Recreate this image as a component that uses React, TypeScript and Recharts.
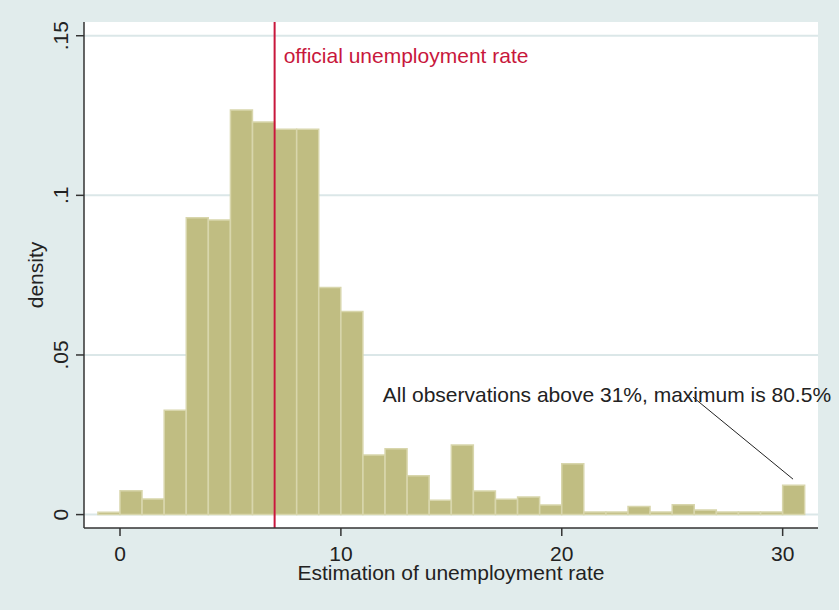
import React from 'react';
import {
  ComposedChart,
  Bar,
  XAxis,
  YAxis,
  CartesianGrid,
  ReferenceLine,
  ReferenceDot,
} from 'recharts';

// Histogram bins (centre of each 1-point-wide bin) and densities
const binCenters = [
  -0.5, 0.5, 1.5, 2.5, 3.5, 4.5, 5.5, 6.5, 7.5, 8.5, 9.5, 10.5, 11.5, 12.5, 13.5, 14.5,
  15.5, 16.5, 17.5, 18.5, 19.5, 20.5, 21.5, 22.5, 23.5, 24.5, 25.5, 26.5, 27.5, 28.5, 29.5, 30.5,
];
const densities = [
  0.0007, 0.0075, 0.0049, 0.0327, 0.093, 0.0923, 0.1267, 0.123, 0.1207, 0.1207, 0.0711, 0.0636,
  0.0187, 0.0206, 0.0122, 0.0045, 0.0218, 0.0074, 0.0048, 0.0055, 0.003, 0.0159, 0.0008, 0.0008,
  0.0025, 0.0008, 0.0031, 0.0014, 0.0008, 0.0008, 0.0008, 0.0092,
];

const xTicks = [0, 10, 20, 30];
const yTicks = [0, 0.05, 0.1, 0.15];
const yTickLabels = ['0', '.05', '.1', '.15'];
const xDomain = [-1.63, 31.6];
const yDomain = [-0.0042, 0.1543];

const officialRate = 7;
const officialLabel = 'official unemployment rate';
const officialLabelAt = { x: 7.41, y: 0.1414 };
const noteText = 'All observations above 31%, maximum is 80.5%';
const noteAt = { x: 11.9, y: 0.0352 };
const noteLine = [
  { x: 25.94, y: 0.0368 },
  { x: 30.47, y: 0.0111 },
];
const xTitle = 'Estimation of unemployment rate';
const yTitle = 'density';

const data = binCenters.map((c, i) => ({ x: c, d: densities[i] }));

const FONT = '"Liberation Sans", Arial, Helvetica, sans-serif';
const TEXT = '#222';

const YTick = (props: any) => {
  const { x, y, payload, index } = props;
  const tx = x - 6;
  const i = yTicks.indexOf(payload.value);
  return (
    <text
      x={tx}
      y={y}
      transform={`rotate(-90, ${tx}, ${y})`}
      textAnchor="middle"
      fontSize={21}
      fill={TEXT}
      fontFamily={FONT}
    >
      {i >= 0 ? yTickLabels[i] : String(payload.value)}
    </text>
  );
};

const XTick = (props: any) => {
  const { x, y, payload } = props;
  return (
    <text x={x} y={y} dy={23} textAnchor="middle" fontSize={21} fill={TEXT} fontFamily={FONT}>
      {String(payload.value)}
    </text>
  );
};

const YTitle = (props: any) => {
  const vb = props.viewBox || {};
  const cy = (vb.y ?? 22) + (vb.height ?? 506) / 2;
  const cx = 43;
  return (
    <text
      x={cx}
      y={cy}
      transform={`rotate(-90, ${cx}, ${cy})`}
      textAnchor="middle"
      fontSize={21}
      fill={TEXT}
      fontFamily={FONT}
    >
      {yTitle}
    </text>
  );
};

const XTitle = (props: any) => {
  const vb = props.viewBox || {};
  const cx = (vb.x ?? 84) + (vb.width ?? 734) / 2;
  return (
    <text x={cx} y={580} textAnchor="middle" fontSize={21} fill={TEXT} fontFamily={FONT}>
      {xTitle}
    </text>
  );
};

export default function App() {
  return (
    <div
      style={{
        position: 'absolute',
        left: 0,
        top: 0,
        width: 839,
        height: 610,
        background: '#e1ecec',
      }}
    >
      <ComposedChart
        width={839}
        height={610}
        data={data}
        margin={{ top: 22, right: 21, left: 0, bottom: 0 }}
        barCategoryGap={0}
        barGap={0}
      >
        <CartesianGrid
          vertical={false}
          horizontal
          fill="#ffffff"
          stroke="#dbe7e8"
          strokeWidth={2}
          horizontalValues={yTicks}
        />
        <XAxis
          dataKey="x"
          type="number"
          domain={xDomain}
          allowDataOverflow
          ticks={xTicks}
          interval={0}
          height={82}
          tickSize={8}
          tick={<XTick />}
          axisLine={{ stroke: '#333', strokeWidth: 1.5 }}
          tickLine={{ stroke: '#333', strokeWidth: 1.5 }}
          label={<XTitle />}
        />
        <YAxis
          type="number"
          domain={yDomain}
          allowDataOverflow
          ticks={yTicks}
          interval={0}
          width={84}
          tickSize={8}
          tick={<YTick />}
          axisLine={{ stroke: '#333', strokeWidth: 1.5 }}
          tickLine={{ stroke: '#333', strokeWidth: 1.5 }}
          label={<YTitle />}
        />
        <Bar
          dataKey="d"
          fill="#c0bd82"
          stroke="#d8d6ac"
          strokeWidth={1.5}
          isAnimationActive={false}
        />
        <ReferenceLine x={officialRate} stroke="#c8173c" strokeWidth={2} />
        <ReferenceLine
          segment={noteLine}
          stroke="#222"
          strokeWidth={1}
          ifOverflow="visible"
        />
        <ReferenceDot
          x={officialLabelAt.x}
          y={officialLabelAt.y}
          r={0}
          ifOverflow="visible"
          shape={(p: any) => (
            <text x={p.cx} y={p.cy} fontSize={21} fill="#c8173c" fontFamily={FONT}>
              {officialLabel}
            </text>
          )}
        />
        <ReferenceDot
          x={noteAt.x}
          y={noteAt.y}
          r={0}
          ifOverflow="visible"
          shape={(p: any) => (
            <text x={p.cx} y={p.cy} fontSize={21} fill={TEXT} fontFamily={FONT}>
              {noteText}
            </text>
          )}
        />
      </ComposedChart>
    </div>
  );
}
